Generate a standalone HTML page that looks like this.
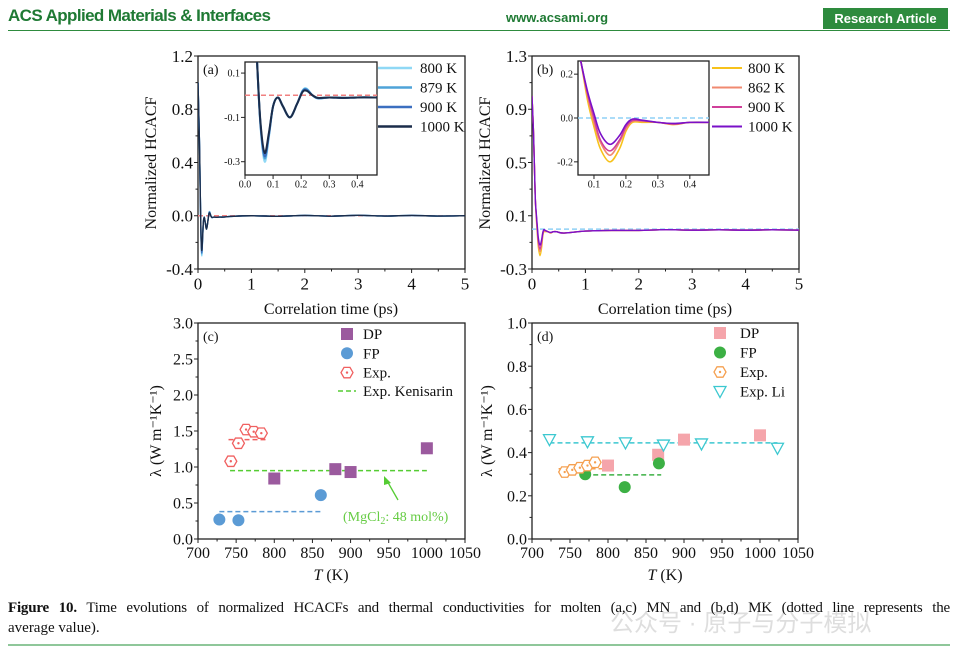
<!DOCTYPE html>
<html><head><meta charset="utf-8">
<style>
body{margin:0;width:958px;height:652px;background:#fff;overflow:hidden;position:relative;font-family:"Liberation Serif",serif}
.hdr{position:absolute;font-family:"Liberation Sans",sans-serif;font-weight:bold;color:#1f7a34}
svg text{font-family:"Liberation Serif",serif}
</style></head><body>
<div class="hdr" style="left:8px;top:6px;font-size:17px;letter-spacing:-0.6px">ACS Applied Materials &amp; Interfaces</div>
<div class="hdr" style="left:506px;top:10px;font-size:13px">www.acsami.org</div>
<div class="hdr" style="left:823px;top:8px;width:125px;height:21px;background:#2e8b3e;color:#fff;font-size:13px;line-height:21px;text-align:center">Research Article</div>
<div style="position:absolute;left:8px;top:30px;width:942px;height:1px;background:#2e8b3e"></div>
<svg id="fig" width="958" height="652" style="position:absolute;left:0;top:0"></svg>
<div style="position:absolute;left:610px;top:603px;font-size:24px;color:rgba(160,160,160,0.35);font-family:'Liberation Sans','Noto Sans CJK SC',sans-serif">公众号 · 原子与分子模拟</div>
<div style="position:absolute;left:8px;top:598px;width:942px;font-size:15px;line-height:20px;color:#111"><span style="display:block;text-align:justify;text-align-last:justify;letter-spacing:-0.2px"><b>Figure 10.</b> Time evolutions of normalized HCACFs and thermal conductivities for molten (a,c) MN and (b,d) MK (dotted line represents the</span>average value).</div>
<div style="position:absolute;left:8px;top:644px;width:942px;height:2px;background:#8fc79a"></div>
<script>
// ---- data ----
const insetT_A=[0.03,0.043,0.055,0.07,0.085,0.1,0.117,0.135,0.16,0.185,0.205,0.22,0.24,0.26,0.3,0.35,0.4,0.47];
const hcacfA_1000=[0.5,0.15,-0.12,-0.26,-0.17,-0.05,-0.01,-0.05,-0.1,-0.04,0.015,0.02,0.0,-0.012,-0.01,-0.012,-0.01,-0.01];
const hcacfA_900=[0.5,0.15,-0.13,-0.275,-0.18,-0.05,-0.01,-0.05,-0.1,-0.04,0.018,0.024,0.0,-0.013,-0.01,-0.012,-0.01,-0.01];
const hcacfA_879=[0.5,0.15,-0.13,-0.285,-0.18,-0.05,-0.01,-0.05,-0.1,-0.04,0.02,0.027,0.0,-0.014,-0.01,-0.012,-0.01,-0.01];
const hcacfA_800=[0.5,0.15,-0.14,-0.3,-0.19,-0.05,-0.01,-0.05,-0.1,-0.04,0.022,0.03,0.0,-0.015,-0.01,-0.012,-0.01,-0.01];
const tailT=[0.6,1,1.5,2,2.5,3,3.5,4,4.5,5];
const tailA=[-0.005,0,-0.004,0.002,-0.003,0.003,-0.002,0.002,-0.002,0];
const insetT_B=[0.06,0.08,0.1,0.12,0.15,0.18,0.2,0.22,0.25,0.3,0.35,0.4,0.46];
const hcacfB_1000=[0.25,0.12,0.02,-0.07,-0.12,-0.08,-0.03,-0.005,-0.01,-0.02,-0.025,-0.02,-0.02];
const hcacfB_900=[0.25,0.11,0.0,-0.1,-0.15,-0.1,-0.04,-0.012,-0.012,-0.02,-0.027,-0.02,-0.02];
const hcacfB_862=[0.25,0.1,-0.02,-0.11,-0.17,-0.11,-0.05,-0.015,-0.015,-0.02,-0.028,-0.02,-0.02];
const hcacfB_800=[0.25,0.08,-0.04,-0.14,-0.2,-0.14,-0.06,-0.02,-0.02,-0.02,-0.03,-0.02,-0.02];
const tailB=[-0.03,-0.015,-0.01,-0.01,-0.005,-0.008,-0.006,-0.008,-0.006,-0.008];
const tempsA=["800 K","879 K","900 K","1000 K"], colorsA=["#8fd8f5","#4fa3d8","#3b6fc0","#1b2d4a"];
const tempsB=["800 K","862 K","900 K","1000 K"], colorsB=["#f7c21b","#f08a70","#d0409a","#7a10c8"];
// panel c
const c_dpT=[800,880,900,1000], c_dpV=[0.84,0.97,0.93,1.26];
const c_fpT=[728,753,861], c_fpV=[0.27,0.26,0.61];
const c_exT=[743,753,763,773,783], c_exV=[1.08,1.33,1.52,1.49,1.47];
const c_avgRed=[740,790,1.38], c_avgBlue=[728,861,0.38], c_avgGreen=[742,1000,0.95];
// panel d
const d_dpT=[800,866,900,1000], d_dpV=[0.34,0.39,0.46,0.48];
const d_fpT=[770,822,867], d_fpV=[0.30,0.24,0.35];
const d_exT=[743,753,763,773,783], d_exV=[0.31,0.32,0.33,0.34,0.355];
const d_liT=[723,773,823,873,923,1023], d_liV=[0.46,0.45,0.445,0.435,0.44,0.42];
const d_avgOrange=[735,795,0.325], d_avgCyan=[723,1023,0.445], d_avgGreen=[770,870,0.297];

const S=document.getElementById('fig'),NS='http://www.w3.org/2000/svg';
function el(tag,at,par){const e=document.createElementNS(NS,tag);for(const k in at)e.setAttribute(k,at[k]);(par||S).appendChild(e);return e;}
function txt(x,y,s,at,par){const t=el('text',Object.assign({x:x,y:y,'font-size':15,fill:'#111'},at||{}),par);t.textContent=s;return t;}
function axis(x0,x1,y0,y1,xmin,xmax,ymin,ymax){return {x:v=>x0+(v-xmin)/(xmax-xmin)*(x1-x0),y:v=>y1-(v-ymin)/(ymax-ymin)*(y1-y0),x0,x1,y0,y1};}
function frame(a,name,xt,xl,yt,yl,fs,minor){
  const g=el('g',{});
  el('rect',{x:a.x0,y:a.y0,width:a.x1-a.x0,height:a.y1-a.y0,fill:'none',stroke:'#222','stroke-width':1.3},g);
  xt.forEach((v,i)=>{const X=a.x(v);el('line',{x1:X,x2:X,y1:a.y1,y2:a.y1+4,stroke:'#222'},g);txt(X,a.y1+17*fs/15+1,xl[i],{'text-anchor':'middle','font-size':fs},g);
    if(minor&&i<xt.length-1){const m=a.x((v+xt[i+1])/2);el('line',{x1:m,x2:m,y1:a.y1,y2:a.y1+2.5,stroke:'#222'},g);}});
  yt.forEach((v,i)=>{const Y=a.y(v);el('line',{x1:a.x0-4,x2:a.x0,y1:Y,y2:Y,stroke:'#222'},g);txt(a.x0-5,Y+fs*0.35,yl[i],{'text-anchor':'end','font-size':fs},g);
    if(minor&&i<yt.length-1){const m=a.y((v+yt[i+1])/2);el('line',{x1:a.x0-2.5,x2:a.x0,y1:m,y2:m,stroke:'#222'},g);}});
  return g;}
function smooth(P){let d='M'+P[0][0]+','+P[0][1];for(let i=0;i<P.length-1;i++){const p0=P[i-1]||P[i],p1=P[i],p2=P[i+1],p3=P[i+2]||p2;
  d+=' C'+(p1[0]+(p2[0]-p0[0])/6)+','+(p1[1]+(p2[1]-p0[1])/6)+' '+(p2[0]-(p3[0]-p1[0])/6)+','+(p2[1]-(p3[1]-p1[1])/6)+' '+p2[0]+','+p2[1];}return d;}
function line(a,xs,ys,col,w,name,clip){const P=xs.map((v,i)=>[a.x(v),a.y(ys[i])]);const p=el('path',{d:smooth(P),fill:'none',stroke:col,'stroke-width':w,'stroke-linejoin':'round'});if(clip)p.setAttribute('clip-path','url(#'+clip+')');return p;}
function dash(a,x1,x2,y,col,name){const l=el('line',{x1:a.x(x1),x2:a.x(x2),y1:a.y(y),y2:a.y(y),stroke:col,'stroke-width':1.5,'stroke-dasharray':'5,3'});}
function clip(id,a){const c=el('clipPath',{id:id});el('rect',{x:a.x0,y:a.y0,width:a.x1-a.x0,height:a.y1-a.y0},c);}
function hex(x,y,col,r){const g=el('g',{});let p=[];for(let k=0;k<6;k++){const an=Math.PI/3*k;p.push((x+r*Math.cos(an))+','+(y+r*Math.sin(an)));}
  el('polygon',{points:p.join(' '),fill:'#fff',stroke:col,'stroke-width':1.3},g);el('circle',{cx:x,cy:y,r:1.2,fill:col},g);return g;}
function tri(x,y,col){return el('polygon',{points:(x-6)+','+(y-5)+' '+(x+6)+','+(y-5)+' '+x+','+(y+6),fill:'#fff',stroke:col,'stroke-width':1.3});}
function sq(x,y,col){return el('rect',{x:x-6,y:y-6,width:12,height:12,fill:col});}
function dot(x,y,col){return el('circle',{cx:x,cy:y,r:6,fill:col});}
function mark(g,name){}

// ===== Panel a =====
const A=axis(198,465,56,269,0,5,-0.4,1.2);clip('ca',A);
frame(A,'panel-a-axes',[0,1,2,3,4,5],['0','1','2','3','4','5'],[-0.4,0,0.4,0.8,1.2],['-0.4','0.0','0.4','0.8','1.2'],17,true);
dash(A,0,5,0,'#f08080','panel-a-zero-line');
const seriesA=[hcacfA_800,hcacfA_879,hcacfA_900,hcacfA_1000];
seriesA.forEach((s,i)=>line(A,[0].concat(insetT_A,tailT),[1.0].concat(s,tailA),colorsA[i],1.4,'panel-a-curve-'+tempsA[i].replace(' ','').toLowerCase(),'ca'));
const Ai=axis(245,377,62,175,0,0.47,-0.36,0.15);clip('cai',Ai);
el('rect',{x:245,y:62,width:132,height:113,fill:'#fff'});
frame(Ai,'panel-a-inset-axes',[0,0.1,0.2,0.3,0.4],['0.0','0.1','0.2','0.3','0.4'],[-0.3,-0.1,0.1],['-0.3','-0.1','0.1'],10,false);
dash(Ai,0,0.47,0,'#f08080','panel-a-inset-zero-line');
seriesA.forEach((s,i)=>line(Ai,[0,0.02].concat(insetT_A),[1.0,0.8].concat(s),colorsA[i],2,'panel-a-inset-curve-'+i,'cai'));
tempsA.forEach((t,i)=>{const y=68+i*19.5;const g=el('g',{});mark(g,'panel-a-legend-'+t.replace(' ','').toLowerCase());el('line',{x1:378,x2:412,y1:y,y2:y,stroke:colorsA[i],'stroke-width':2.5},g);txt(420,y+5,t,{'font-size':15},g);});
txt(203,74,'(a)',{'font-size':14});
txt(0,0,'Normalized HCACF',{'text-anchor':'middle',transform:'translate(156,163) rotate(-90)','font-size':16});
txt(331,314,'Correlation time (ps)',{'text-anchor':'middle','font-size':16});

// ===== Panel b =====
const B=axis(532,799,56,269,0,5,-0.3,1.3);clip('cb',B);
frame(B,'panel-b-axes',[0,1,2,3,4,5],['0','1','2','3','4','5'],[-0.3,0.1,0.5,0.9,1.3],['-0.3','0.1','0.5','0.9','1.3'],17,true);
dash(B,0,5,0,'#8fd0f5','panel-b-zero-line');
const seriesB=[hcacfB_800,hcacfB_862,hcacfB_900,hcacfB_1000];
seriesB.forEach((s,i)=>line(B,[0,0.03].concat(insetT_B,tailT),[1.0,0.7].concat(s,tailB),colorsB[i],1.4,'panel-b-curve-'+tempsB[i].replace(' ','').toLowerCase(),'cb'));
const Bi=axis(578,709,61,175,0.05,0.46,-0.26,0.26);clip('cbi',Bi);
el('rect',{x:578,y:61,width:131,height:114,fill:'#fff'});
frame(Bi,'panel-b-inset-axes',[0.1,0.2,0.3,0.4],['0.1','0.2','0.3','0.4'],[-0.2,0,0.2],['-0.2','0.0','0.2'],10,false);
dash(Bi,0.05,0.46,0,'#8fd0f5','panel-b-inset-zero-line');
seriesB.forEach((s,i)=>line(Bi,[0.04].concat(insetT_B),[0.4].concat(s),colorsB[i],1.6,'panel-b-inset-curve-'+i,'cbi'));
tempsB.forEach((t,i)=>{const y=68+i*19.5;const g=el('g',{});mark(g,'panel-b-legend-'+t.replace(' ','').toLowerCase());el('line',{x1:712,x2:742,y1:y,y2:y,stroke:colorsB[i],'stroke-width':2},g);txt(748,y+5,t,{'font-size':15},g);});
txt(537,74,'(b)',{'font-size':14});
txt(0,0,'Normalized HCACF',{'text-anchor':'middle',transform:'translate(490,163) rotate(-90)','font-size':16});
txt(665,314,'Correlation time (ps)',{'text-anchor':'middle','font-size':16});

// ===== Panel c =====
const xtT=[700,750,800,850,900,950,1000,1050],xtL=xtT.map(String);
const C=axis(198,465,323,539,700,1050,0,3);
frame(C,'panel-c-axes',xtT,xtL,[0,0.5,1,1.5,2,2.5,3],['0.0','0.5','1.0','1.5','2.0','2.5','3.0'],16,true);
dash(C,c_avgRed[0],c_avgRed[1],c_avgRed[2],'#f06060','panel-c-exp-average');
dash(C,c_avgBlue[0],c_avgBlue[1],c_avgBlue[2],'#5b9bd5','panel-c-fp-average');
dash(C,c_avgGreen[0],c_avgGreen[1],c_avgGreen[2],'#55cc33','panel-c-kenisarin-line');
c_dpT.forEach((t,i)=>mark(sq(C.x(t),C.y(c_dpV[i]),'#9b5a9e'),'panel-c-dp-point'));
c_fpT.forEach((t,i)=>mark(dot(C.x(t),C.y(c_fpV[i]),'#5b9bd5'),'panel-c-fp-point'));
c_exT.forEach((t,i)=>mark(hex(C.x(t),C.y(c_exV[i]),'#f06060',6),'panel-c-exp-point'));
txt(203,341,'(c)',{'font-size':14});
[[sq,'#9b5a9e','DP'],[dot,'#5b9bd5','FP'],[(x,y,c)=>hex(x,y,c,6),'#f06060','Exp.']].forEach((r,i)=>{const y=334+i*19.3;r[0](347,y,r[1]);txt(363,y+5,r[2],{'font-size':15});});
el('line',{x1:338,x2:356,y1:391,y2:391,stroke:'#55cc33','stroke-width':1.5,'stroke-dasharray':'5,3'});txt(363,396,'Exp. Kenisarin',{'font-size':15});
el('line',{x1:398,y1:500,x2:386,y2:479,stroke:'#55cc33','stroke-width':1.3});
el('polygon',{points:'384,476 391,483 384,485',fill:'#55cc33'});
const mg=txt(343,521,'(MgCl',{'font-size':14,fill:'#66cc44'});const sub=el('tspan',{dy:3,'font-size':10},mg);sub.textContent='2';const r2=el('tspan',{dy:-3},mg);r2.textContent=': 48 mol%)';
txt(0,0,'λ (W m⁻¹K⁻¹)',{'text-anchor':'middle',transform:'translate(161,431) rotate(-90)','font-size':16});
const tl=txt(331,580,'',{'text-anchor':'middle','font-size':16});const ti=el('tspan',{'font-style':'italic'},tl);ti.textContent='T';const tk=el('tspan',{},tl);tk.textContent=' (K)';

// ===== Panel d =====
const D=axis(532,798,323,539,700,1050,0,1);
frame(D,'panel-d-axes',xtT,xtL,[0,0.2,0.4,0.6,0.8,1],['0.0','0.2','0.4','0.6','0.8','1.0'],16,true);
dash(D,d_avgOrange[0],d_avgOrange[1],d_avgOrange[2],'#f5a050','panel-d-exp-average');
dash(D,d_avgCyan[0],d_avgCyan[1],d_avgCyan[2],'#3cc8d0','panel-d-li-average');
dash(D,d_avgGreen[0],d_avgGreen[1],d_avgGreen[2],'#3cb044','panel-d-fp-average');
d_dpT.forEach((t,i)=>mark(sq(D.x(t),D.y(d_dpV[i]),'#f5a5ab'),'panel-d-dp-point'));
d_fpT.forEach((t,i)=>mark(dot(D.x(t),D.y(d_fpV[i]),'#3cb044'),'panel-d-fp-point'));
d_exT.forEach((t,i)=>mark(hex(D.x(t),D.y(d_exV[i]),'#f5a050',6),'panel-d-exp-point'));
d_liT.forEach((t,i)=>mark(tri(D.x(t),D.y(d_liV[i]),'#3cc8d0'),'panel-d-li-point'));
txt(537,341,'(d)',{'font-size':14});
[[sq,'#f5a5ab','DP'],[dot,'#3cb044','FP'],[(x,y,c)=>hex(x,y,c,6),'#f5a050','Exp.'],[tri,'#3cc8d0','Exp.  Li']].forEach((r,i)=>{const y=333+i*19.5;r[0](720,y,r[1]);txt(740,y+5,r[2],{'font-size':15});});
txt(0,0,'λ (W m⁻¹K⁻¹)',{'text-anchor':'middle',transform:'translate(492,431) rotate(-90)','font-size':16});
const tl2=txt(665,580,'',{'text-anchor':'middle','font-size':16});const ti2=el('tspan',{'font-style':'italic'},tl2);ti2.textContent='T';const tk2=el('tspan',{},tl2);tk2.textContent=' (K)';
</script>
</body></html>
